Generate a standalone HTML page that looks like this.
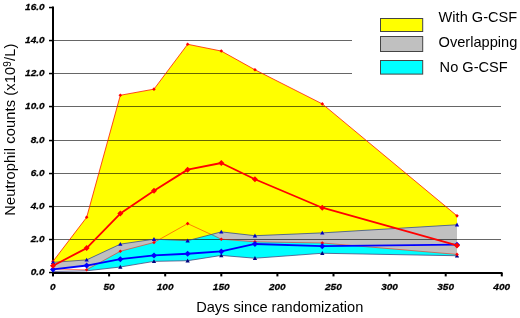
<!DOCTYPE html>
<html><head><meta charset="utf-8"><title>Neutrophil counts</title>
<style>
html,body{margin:0;padding:0;background:#fff;}
body{width:520px;height:318px;overflow:hidden;}
svg text{font-family:"Liberation Sans",Arial,sans-serif;fill:#000;}
svg .t{font-size:9.3px;stroke:#000;stroke-width:0.25px;font-weight:bold;font-style:italic;}
svg .l{font-size:14.6px;}
</style></head><body>
<svg width="520" height="318" viewBox="0 0 520 318" style="display:block">
<rect width="520" height="318" fill="#fff"/>
<polygon points="53.0,261.37 86.66,217.32 120.32,95.27 153.98,89.15 187.64,44.27 221.3,51.06 254.96,69.77 322.28,103.88 457.0,215.83 457.0,254.42 322.28,242.99 254.96,241.83 221.3,239.18 187.64,240.67 153.98,242.49 120.32,251.27 86.66,269.82 53.0,268.99" fill="#ffff00"/>
<polygon points="86.66,259.88 120.32,244.15 153.98,239.18 187.64,240.67 221.3,231.89 254.96,235.7 322.28,232.89 457.0,224.77 457.0,255.74 322.28,253.26 254.96,258.22 221.3,255.41 187.64,260.71 153.98,261.37 120.32,267.0 86.66,270.81" fill="#00ffff"/>
<polygon points="53.0,262.36 86.66,259.88 120.32,244.15 153.98,239.18 159.59,239.43 153.98,242.49 120.32,251.27 87.78,268.99 86.66,266.01 53.0,269.48" fill="#c0c0c0"/>
<polygon points="53.0,269.48 86.66,266.01 87.22,270.15 53.0,272.3" fill="#fff"/>
<polygon points="212.89,234.05 221.3,231.89 254.96,235.7 322.28,232.89 457.0,224.77 457.0,254.42 322.28,242.99 254.96,241.83 221.3,239.18" fill="#c0c0c0"/>
<line x1="54" y1="239.5" x2="501" y2="239.5" stroke="#000" stroke-opacity="0.6" stroke-width="1"/>
<line x1="54" y1="206.5" x2="501" y2="206.5" stroke="#000" stroke-opacity="0.6" stroke-width="1"/>
<line x1="54" y1="173.5" x2="501" y2="173.5" stroke="#000" stroke-opacity="0.6" stroke-width="1"/>
<line x1="54" y1="140.5" x2="501" y2="140.5" stroke="#000" stroke-opacity="0.6" stroke-width="1"/>
<line x1="54" y1="106.5" x2="501" y2="106.5" stroke="#000" stroke-opacity="0.6" stroke-width="1"/>
<line x1="54" y1="73.5" x2="352" y2="73.5" stroke="#000" stroke-opacity="0.6" stroke-width="1"/>
<line x1="54" y1="40.5" x2="352" y2="40.5" stroke="#000" stroke-opacity="0.6" stroke-width="1"/>
<rect x="52" y="6.5" width="2" height="267.5" fill="#000"/>
<rect x="52" y="272" width="450.5" height="2" fill="#000"/>
<rect x="49" y="271.8" width="4" height="1.5" fill="#000"/>
<text transform="translate(44.6,275.1) scale(1.08,1)" text-anchor="end" class="t">0.0</text>
<rect x="49" y="238.8" width="4" height="1.5" fill="#000"/>
<text transform="translate(44.6,242.1) scale(1.08,1)" text-anchor="end" class="t">2.0</text>
<rect x="49" y="205.8" width="4" height="1.5" fill="#000"/>
<text transform="translate(44.6,209.1) scale(1.08,1)" text-anchor="end" class="t">4.0</text>
<rect x="49" y="172.8" width="4" height="1.5" fill="#000"/>
<text transform="translate(44.6,176.1) scale(1.08,1)" text-anchor="end" class="t">6.0</text>
<rect x="49" y="139.8" width="4" height="1.5" fill="#000"/>
<text transform="translate(44.6,143.1) scale(1.08,1)" text-anchor="end" class="t">8.0</text>
<rect x="49" y="105.8" width="4" height="1.5" fill="#000"/>
<text transform="translate(44.6,109.1) scale(1.08,1)" text-anchor="end" class="t">10.0</text>
<rect x="49" y="72.8" width="4" height="1.5" fill="#000"/>
<text transform="translate(44.6,76.1) scale(1.08,1)" text-anchor="end" class="t">12.0</text>
<rect x="49" y="39.8" width="4" height="1.5" fill="#000"/>
<text transform="translate(44.6,43.1) scale(1.08,1)" text-anchor="end" class="t">14.0</text>
<rect x="49" y="6.8" width="4" height="1.5" fill="#000"/>
<text transform="translate(44.6,10.1) scale(1.08,1)" text-anchor="end" class="t">16.0</text>
<rect x="52.0" y="273" width="2" height="3.4" fill="#000"/>
<text transform="translate(52.9,289.9) scale(1.08,1)" text-anchor="middle" class="t">0</text>
<rect x="108.1" y="273" width="2" height="3.4" fill="#000"/>
<text transform="translate(109.0,289.9) scale(1.08,1)" text-anchor="middle" class="t">50</text>
<rect x="164.2" y="273" width="2" height="3.4" fill="#000"/>
<text transform="translate(165.1,289.9) scale(1.08,1)" text-anchor="middle" class="t">100</text>
<rect x="220.3" y="273" width="2" height="3.4" fill="#000"/>
<text transform="translate(221.20000000000002,289.9) scale(1.08,1)" text-anchor="middle" class="t">150</text>
<rect x="276.4" y="273" width="2" height="3.4" fill="#000"/>
<text transform="translate(277.29999999999995,289.9) scale(1.08,1)" text-anchor="middle" class="t">200</text>
<rect x="332.5" y="273" width="2" height="3.4" fill="#000"/>
<text transform="translate(333.4,289.9) scale(1.08,1)" text-anchor="middle" class="t">250</text>
<rect x="388.6" y="273" width="2" height="3.4" fill="#000"/>
<text transform="translate(389.5,289.9) scale(1.08,1)" text-anchor="middle" class="t">300</text>
<rect x="444.7" y="273" width="2" height="3.4" fill="#000"/>
<text transform="translate(445.59999999999997,289.9) scale(1.08,1)" text-anchor="middle" class="t">350</text>
<rect x="500.8" y="273" width="2" height="3.4" fill="#000"/>
<text transform="translate(501.7,289.9) scale(1.08,1)" text-anchor="middle" class="t">400</text>
<polyline points="53.0,261.37 86.66,217.32 120.32,95.27 153.98,89.15 187.64,44.27 221.3,51.06 254.96,69.77 322.28,103.88 457.0,215.83" fill="none" stroke="#ff1a00" stroke-width="0.8"/>
<polyline points="53.0,268.99 86.66,269.82 120.32,251.27 153.98,242.49 187.64,223.61 221.3,239.18 254.96,241.83 322.28,242.99 457.0,254.42" fill="none" stroke="#ff1a00" stroke-opacity="0.8" stroke-width="0.7"/>
<polyline points="53.0,262.36 86.66,259.88 120.32,244.15 153.98,239.18 187.64,240.67 221.3,231.89 254.96,235.7 322.28,232.89 457.0,224.77" fill="none" stroke="#4a4a80" stroke-width="0.8"/>
<polyline points="53.0,271.47 86.66,270.81 120.32,267.0 153.98,261.37 187.64,260.71 221.3,255.41 254.96,258.22 322.28,253.26 457.0,255.74" fill="none" stroke="#4a4a80" stroke-width="0.8"/>
<polygon points="51.2,261.37 53.0,259.57 54.8,261.37 53.0,263.17" fill="#ff0000"/>
<polygon points="84.86,217.32 86.66,215.51999999999998 88.46,217.32 86.66,219.12" fill="#ff0000"/>
<polygon points="118.52,95.27 120.32,93.47 122.11999999999999,95.27 120.32,97.07" fill="#ff0000"/>
<polygon points="152.17999999999998,89.15 153.98,87.35000000000001 155.78,89.15 153.98,90.95" fill="#ff0000"/>
<polygon points="185.83999999999997,44.27 187.64,42.470000000000006 189.44,44.27 187.64,46.07" fill="#ff0000"/>
<polygon points="219.5,51.06 221.3,49.260000000000005 223.10000000000002,51.06 221.3,52.86" fill="#ff0000"/>
<polygon points="253.16,69.77 254.96,67.97 256.76,69.77 254.96,71.57" fill="#ff0000"/>
<polygon points="320.47999999999996,103.88 322.28,102.08 324.08,103.88 322.28,105.67999999999999" fill="#ff0000"/>
<polygon points="455.2,215.83 457.0,214.03 458.8,215.83 457.0,217.63000000000002" fill="#ff0000"/>
<polygon points="50.85,264.08000000000004 53.0,260.21000000000004 55.15,264.08000000000004" fill="#0000c0"/>
<polygon points="84.50999999999999,261.6 86.66,257.73 88.81,261.6" fill="#0000c0"/>
<polygon points="118.16999999999999,245.87 120.32,242.0 122.47,245.87" fill="#0000c0"/>
<polygon points="151.82999999999998,240.9 153.98,237.03 156.13,240.9" fill="#0000c0"/>
<polygon points="185.48999999999998,242.39 187.64,238.51999999999998 189.79,242.39" fill="#0000c0"/>
<polygon points="219.15,233.60999999999999 221.3,229.73999999999998 223.45000000000002,233.60999999999999" fill="#0000c0"/>
<polygon points="252.81,237.42 254.96,233.54999999999998 257.11,237.42" fill="#0000c0"/>
<polygon points="320.13,234.60999999999999 322.28,230.73999999999998 324.42999999999995,234.60999999999999" fill="#0000c0"/>
<polygon points="454.85,226.49 457.0,222.62 459.15,226.49" fill="#0000c0"/>
<polygon points="118.16999999999999,268.72 120.32,264.85 122.47,268.72" fill="#000080"/>
<polygon points="151.82999999999998,263.09000000000003 153.98,259.22 156.13,263.09000000000003" fill="#000080"/>
<polygon points="185.48999999999998,262.43 187.64,258.56 189.79,262.43" fill="#000080"/>
<polygon points="219.15,257.13 221.3,253.26 223.45000000000002,257.13" fill="#000080"/>
<polygon points="252.81,259.94000000000005 254.96,256.07000000000005 257.11,259.94000000000005" fill="#000080"/>
<polygon points="320.13,254.98 322.28,251.10999999999999 324.42999999999995,254.98" fill="#000080"/>
<polygon points="454.85,257.46000000000004 457.0,253.59 459.15,257.46000000000004" fill="#000080"/>
<polygon points="51.2,268.99 53.0,267.19 54.8,268.99 53.0,270.79" fill="#ff0000"/>
<polygon points="84.86,269.82 86.66,268.02 88.46,269.82 86.66,271.62" fill="#ff0000"/>
<polygon points="118.52,251.27 120.32,249.47 122.11999999999999,251.27 120.32,253.07000000000002" fill="#ff0000"/>
<polygon points="152.17999999999998,242.49 153.98,240.69 155.78,242.49 153.98,244.29000000000002" fill="#ff0000"/>
<polygon points="185.83999999999997,223.61 187.64,221.81 189.44,223.61 187.64,225.41000000000003" fill="#ff0000"/>
<polygon points="219.5,239.18 221.3,237.38 223.10000000000002,239.18 221.3,240.98000000000002" fill="#ff0000"/>
<polygon points="253.16,241.83 254.96,240.03 256.76,241.83 254.96,243.63000000000002" fill="#ff0000"/>
<polygon points="320.47999999999996,242.99 322.28,241.19 324.08,242.99 322.28,244.79000000000002" fill="#ff0000"/>
<polygon points="455.2,254.42 457.0,252.61999999999998 458.8,254.42 457.0,256.21999999999997" fill="#ff0000"/>
<polyline points="53.0,269.48 86.66,265.51 120.32,259.22 153.98,255.41 187.64,253.75 221.3,251.43 254.96,243.98 322.28,246.14 457.0,244.64" fill="none" stroke="#0000ff" stroke-width="1.8" stroke-linejoin="round"/>
<polygon points="50.0,269.48 53.0,266.48 56.0,269.48 53.0,272.48" fill="#0000ff"/>
<polygon points="83.66,265.51 86.66,262.51 89.66,265.51 86.66,268.51" fill="#0000ff"/>
<polygon points="117.32,259.22 120.32,256.22 123.32,259.22 120.32,262.22" fill="#0000ff"/>
<polygon points="150.98,255.41 153.98,252.41 156.98,255.41 153.98,258.40999999999997" fill="#0000ff"/>
<polygon points="184.64,253.75 187.64,250.75 190.64,253.75 187.64,256.75" fill="#0000ff"/>
<polygon points="218.3,251.43 221.3,248.43 224.3,251.43 221.3,254.43" fill="#0000ff"/>
<polygon points="251.96,243.98 254.96,240.98 257.96000000000004,243.98 254.96,246.98" fill="#0000ff"/>
<polygon points="319.28,246.14 322.28,243.14 325.28,246.14 322.28,249.14" fill="#0000ff"/>
<polygon points="454.0,244.64 457.0,241.64 460.0,244.64 457.0,247.64" fill="#0000ff"/>
<polyline points="53.0,265.68 86.66,248.12 120.32,213.51 153.98,190.66 187.64,169.63 221.3,163.0 254.96,179.23 322.28,207.72 457.0,245.47" fill="none" stroke="#ff0000" stroke-width="1.8" stroke-linejoin="round"/>
<polygon points="50.0,265.68 53.0,262.68 56.0,265.68 53.0,268.68" fill="#ff0000"/>
<polygon points="83.66,248.12 86.66,245.12 89.66,248.12 86.66,251.12" fill="#ff0000"/>
<polygon points="117.32,213.51 120.32,210.51 123.32,213.51 120.32,216.51" fill="#ff0000"/>
<polygon points="150.98,190.66 153.98,187.66 156.98,190.66 153.98,193.66" fill="#ff0000"/>
<polygon points="184.64,169.63 187.64,166.63 190.64,169.63 187.64,172.63" fill="#ff0000"/>
<polygon points="218.3,163.0 221.3,160.0 224.3,163.0 221.3,166.0" fill="#ff0000"/>
<polygon points="251.96,179.23 254.96,176.23 257.96000000000004,179.23 254.96,182.23" fill="#ff0000"/>
<polygon points="319.28,207.72 322.28,204.72 325.28,207.72 322.28,210.72" fill="#ff0000"/>
<polygon points="454.0,245.47 457.0,242.47 460.0,245.47 457.0,248.47" fill="#ff0000"/>
<rect x="380.5" y="18.5" width="42.2" height="13" fill="#ffff00" stroke="#444" stroke-width="1"/>
<text x="438.6" y="22.2" class="l">With G-CSF</text>
<rect x="380.5" y="36.5" width="42.2" height="15" fill="#c0c0c0" stroke="#444" stroke-width="1"/>
<text x="438.6" y="47.3" class="l">Overlapping</text>
<rect x="380.5" y="60.5" width="42.2" height="13.6" fill="#00ffff" stroke="#444" stroke-width="1"/>
<text x="439.6" y="72.4" class="l">No G-CSF</text>
<text x="196.2" y="312.3" class="l">Days since randomization</text>
<text transform="translate(15,215.8) rotate(-90)" class="l" letter-spacing="0.14">Neutrophil counts (x10<tspan dy="-4.5" font-size="10">9</tspan><tspan dy="4.5">/L)</tspan></text>
</svg>
</body></html>
